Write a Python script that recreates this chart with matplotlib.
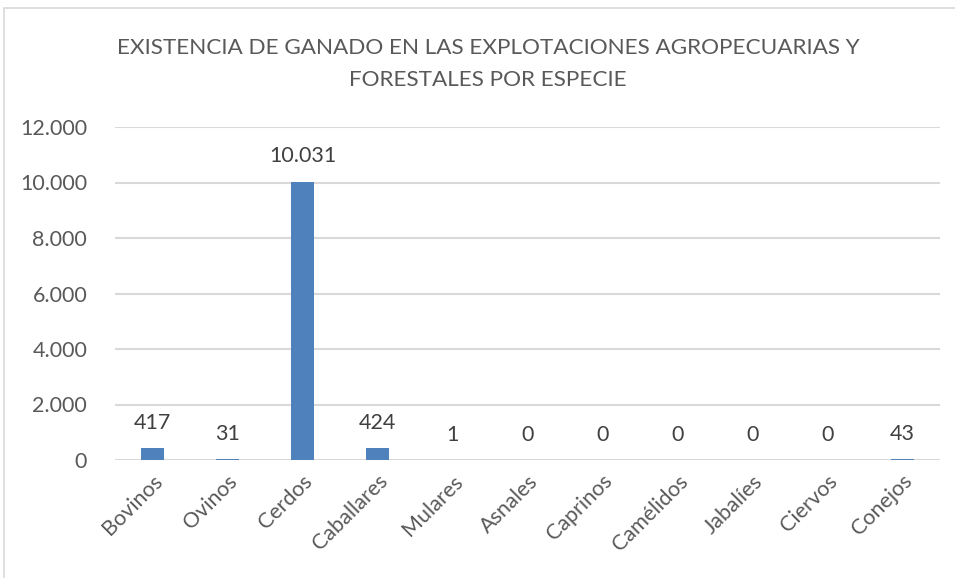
import matplotlib.pyplot as plt
from matplotlib.patches import Rectangle

# datos
especies = ['Bovinos', 'Ovinos', 'Cerdos', 'Caballares', 'Mulares', 'Asnales',
            'Caprinos', 'Camélidos', 'Jabalíes', 'Ciervos', 'Conejos']
cabezas = [417, 31, 10031, 424, 1, 0, 0, 0, 0, 0, 43]
y_ticks = [0, 2000, 4000, 6000, 8000, 10000, 12000]
titulo = 'EXISTENCIA DE GANADO EN LAS EXPLOTACIONES AGROPECUARIAS Y\nFORESTALES POR ESPECIE'

gris = '#595959'
plt.rcParams['font.family'] = ['Lato', 'DejaVu Sans']

def miles(v):
    return f'{v:,.0f}'.replace(',', '.')

fig = plt.figure(figsize=(9.55, 5.78), dpi=100)
fig.patches.append(Rectangle((4 / 955, -0.1), 1.2, 1.1 - 8 / 578, transform=fig.transFigure,
                             fill=False, edgecolor='#d9d9d9', linewidth=1.2))
ax = fig.add_axes([115 / 955, 1 - 460 / 578, 825 / 955, 333 / 578])

x = range(len(especies))
ax.bar(x, cabezas, width=0.31, color='#4f81bd', zorder=3)
for i, v in enumerate(cabezas):
    ax.annotate(miles(v), (i, v), xytext=(0, 11), textcoords='offset points',
                ha='center', va='bottom', fontsize=15.5, color='#404040')

ax.set_xlim(-0.5, len(especies) - 0.5)
ax.set_ylim(0, 12000)
ax.set_yticks(y_ticks)
ax.set_yticklabels([miles(v) for v in y_ticks], fontsize=15.5, color=gris)
ax.set_xticks(list(x))
ax.set_xticklabels(especies, rotation=45, ha='right', rotation_mode='anchor',
                   fontsize=15.5, color=gris)
ax.tick_params(length=0)
ax.tick_params(axis='y', pad=20)
ax.tick_params(axis='x', pad=8)
ax.grid(axis='y', color='#d9d9d9', linewidth=1.5, zorder=0)
for s in ax.spines.values():
    s.set_visible(False)

fig.text(0.511, 1 - 64 / 578, titulo, ha='center', va='center', fontsize=16.2,
         color=gris, linespacing=1.75)

fig.savefig('out.png', dpi=100)
